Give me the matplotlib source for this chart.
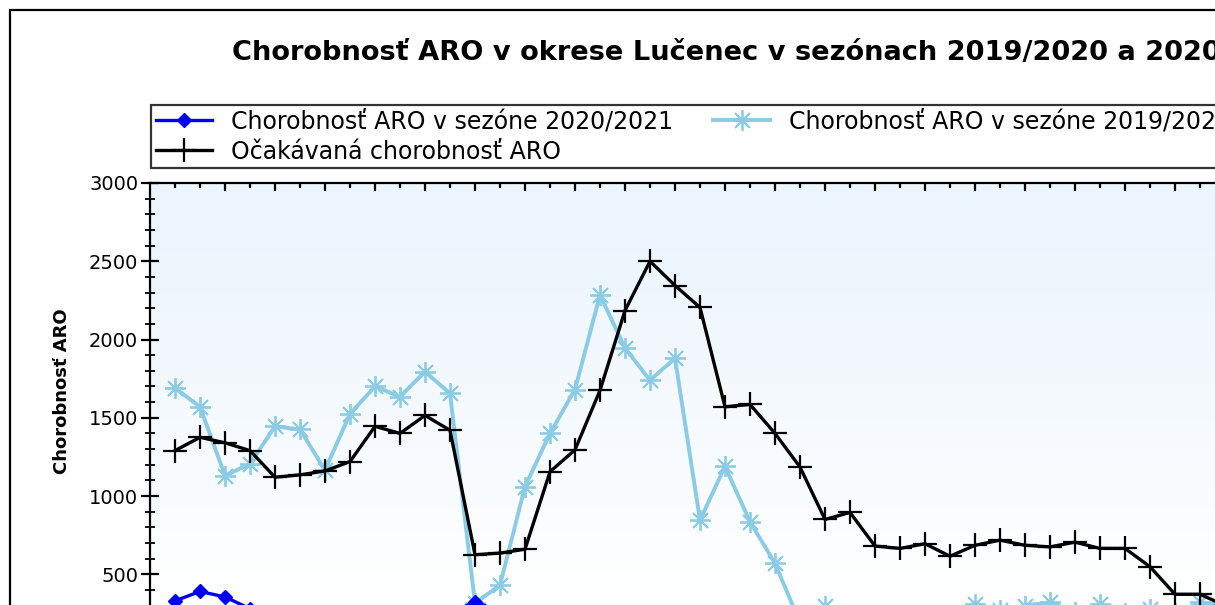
import numpy as np
import matplotlib.pyplot as plt
from matplotlib.patches import Rectangle
from matplotlib.ticker import FixedLocator, MultipleLocator

# kalendárne týždne sezóny (40. týždeň až 39. týždeň)
weeks = list(range(40, 54)) + list(range(1, 40))

# chorobnosť ARO v sezóne 2020/2021
aro_2021 = [330, 390, 355, 280, 240, 200, 175, 190, 210, 235, 255, 250,
            325, 260, 230, 210, 200, 190]
# chorobnosť ARO v sezóne 2019/2020
aro_1920 = [1690, 1570, 1130, 1205, 1445, 1425, 1165, 1525, 1700, 1635, 1795, 1655,
            316, 430, 1060, 1400, 1680, 2285, 1945, 1740, 1880, 845, 1190, 835,
            570, 190, 300, 210, 160, 130, 150, 200, 310, 270, 300, 320,
            260, 310, 250, 280, 250, 320, 300, 280, 250, 240, 210, 200,
            190, 180, 180, 170, 170]
# očakávaná chorobnosť ARO
expected = [1290, 1375, 1340, 1290, 1120, 1135, 1160, 1220, 1445, 1400, 1515, 1420,
            625, 635, 660, 1155, 1295, 1675, 2185, 2500, 2345, 2205, 1570, 1585,
            1400, 1185, 850, 895, 680, 665, 695, 615, 685, 718, 685, 675,
            705, 665, 665, 548, 372, 372, 300, 260, 230, 200, 190, 180,
            170, 170, 180, 190, 200]

W, H = 1215, 605
fig = plt.figure(figsize=(W / 100, H / 100), dpi=100)
fig.patch.set_facecolor('white')

# ram okolo celeho grafu (pravy a spodny okraj su orezane)
fig.add_artist(Rectangle((10 / W, -0.5), 2, 1.5 - 10 / H, transform=fig.transFigure,
                         fill=False, edgecolor='black', linewidth=1.6))

ax_left, ax_top, ax_bottom = 150, 183, 652.5
step = 25
ax = fig.add_axes([ax_left / W, (H - ax_bottom) / H, 54 * step / W, (ax_bottom - ax_top) / H])
ax.set_xlim(-1, 53)
ax.set_ylim(0, 3000)

# pozadie s prechodom do bielej
grad = np.linspace(0, 1, 256).reshape(-1, 1)
top = np.array([236, 245, 253]) / 255
cols = np.clip(grad * 1.25 - 0.12, 0, 1)
img = (1 - cols[..., None]) * np.ones(3) + cols[..., None] * top
ax.imshow(img[::-1], extent=[0, 1, 0, 1], transform=ax.transAxes, aspect='auto',
          zorder=0, origin='upper')

x = np.arange(len(weeks))
l_blue, = ax.plot(x[:len(aro_2021)], aro_2021, color='#0000F0', lw=2.4, marker='D',
                  ms=7, zorder=4, label='Chorobnosť ARO v sezóne 2020/2021')
l_light, = ax.plot(x[:len(aro_1920)], aro_1920, color='#8ACBE5', lw=2.8,
                   marker=(8, 2, 0), ms=15, mew=1.3, zorder=3,
                   label='Chorobnosť ARO v sezóne 2019/2020')
l_black, = ax.plot(x[:len(expected)], expected, color='black', lw=2.4, marker='+',
                   ms=17, mew=1.6, zorder=3, label='Očakávaná chorobnosť ARO')

for s in ['top', 'left']:
    ax.spines[s].set_linewidth(1.6)
for s in ['right', 'bottom']:
    ax.spines[s].set_visible(False)

ax.yaxis.set_major_locator(MultipleLocator(500))
ax.yaxis.set_minor_locator(MultipleLocator(100))
ax.tick_params(axis='y', which='major', direction='inout', length=13, width=1.6,
               labelsize=14, pad=2)
ax.tick_params(axis='y', which='minor', direction='inout', length=7, width=1.3)

ax.xaxis.set_major_locator(FixedLocator(np.arange(2, 53, 2)))
ax.xaxis.set_minor_locator(FixedLocator([0] + list(np.arange(1, 53, 2))))
ax.set_xticklabels([str(weeks[i]) for i in range(2, 53, 2)])
ax.tick_params(axis='x', which='both', top=True, bottom=False, direction='in', width=1.6,
               labelbottom=False)
ax.tick_params(axis='x', which='major', length=6)
ax.tick_params(axis='x', which='minor', length=3.5)

fig.text(232 / W, 1 - 53 / H, 'Chorobnosť ARO v okrese Lučenec v sezónach 2019/2020 a 2020/2021',
         ha='left', va='center', fontsize=19.6, fontweight='bold')
fig.text(62 / W, 1 - 391 / H, 'Chorobnosť ARO', rotation=90, ha='center', va='center',
         fontsize=13, fontweight='bold')

leg = fig.legend(handles=[l_blue, l_black, l_light], ncol=2, loc='upper left',
                 bbox_to_anchor=(151 / W, 1 - 105 / H), borderaxespad=0,
                 fontsize=17, frameon=True, fancybox=False, edgecolor='black',
                 handlelength=2.4, handletextpad=0.8, columnspacing=1.7,
                 labelspacing=0.25, borderpad=0.2)
leg.get_frame().set_linewidth(1.6)

fig.savefig('out.png', dpi=100)
